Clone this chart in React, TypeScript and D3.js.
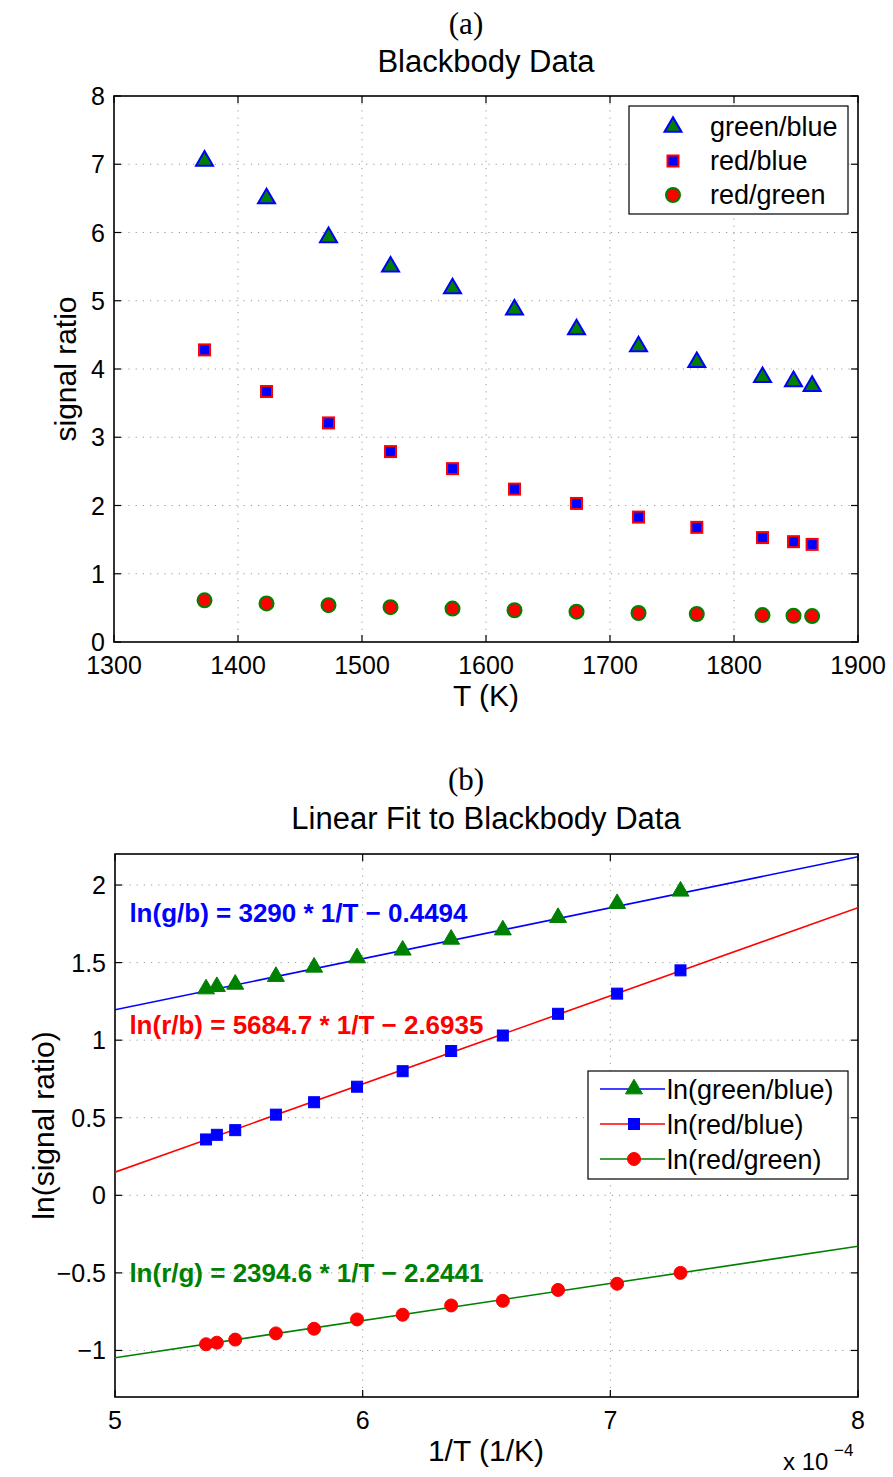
import React from 'react';
import * as d3 from 'd3';

// ---------- data ----------
const temperatures = [1373, 1423, 1473, 1523, 1573, 1623, 1673, 1723, 1770, 1823, 1848, 1863];
const greenBlue = [7.05, 6.5, 5.93, 5.5, 5.18, 4.87, 4.58, 4.33, 4.1, 3.88, 3.82, 3.75];
const redBlue = [4.28, 3.67, 3.21, 2.79, 2.54, 2.24, 2.03, 1.83, 1.68, 1.53, 1.47, 1.43];
const redGreen = [0.61, 0.565, 0.54, 0.51, 0.49, 0.465, 0.445, 0.425, 0.41, 0.395, 0.385, 0.38];

const lnGreenBlue = [1.96, 1.88, 1.79, 1.71, 1.65, 1.58, 1.53, 1.47, 1.41, 1.36, 1.345, 1.33];
const lnRedBlue = [1.45, 1.3, 1.17, 1.03, 0.93, 0.8, 0.7, 0.6, 0.52, 0.42, 0.39, 0.36];
const lnRedGreen = [-0.5, -0.57, -0.61, -0.68, -0.71, -0.77, -0.8, -0.86, -0.89, -0.93, -0.95, -0.96];

const fitNames = ['ln(green/blue)', 'ln(red/blue)', 'ln(red/green)'];
const fitSlopes = [3290, 5684.7, 2394.6];
const fitIntercepts = [-0.4494, -2.6935, -2.2441];
const fitLabels = [
  'ln(g/b) = 3290 * 1/T \u2212 0.4494',
  'ln(r/b) = 5684.7 * 1/T \u2212 2.6935',
  'ln(r/g) = 2394.6 * 1/T \u2212 2.2441',
];
const fitLabelY = [1.82, 1.1, -0.5];

const topXTicks = [1300, 1400, 1500, 1600, 1700, 1800, 1900];
const topYTicks = [0, 1, 2, 3, 4, 5, 6, 7, 8];
const botXTicks = [5e-4, 6e-4, 7e-4, 8e-4];
const botYTicks = [-1, -0.5, 0, 0.5, 1, 1.5, 2];

const topNames = ['green/blue', 'red/blue', 'red/green'];

// ---------- styling ----------
const BLUE = '#0000ff';
const RED = '#ff0000';
const GREEN = '#008000';
const FONT = '"Liberation Sans", Arial, Helvetica, sans-serif';
const SERIF = '"Liberation Serif", "Times New Roman", serif';
const GRID = '#9a9a9a';

type Shape = 'tri' | 'sq' | 'circ';

function Marker({ shape, x, y, fill, stroke, sw, size }: { shape: Shape; x: number; y: number; fill: string; stroke: string; sw: number; size: number }) {
  if (shape === 'tri') {
    const w = size;
    const h = size * 0.86;
    const pts = `${x},${y - (2 * h) / 3} ${x - w / 2},${y + h / 3} ${x + w / 2},${y + h / 3}`;
    return <polygon points={pts} fill={fill} stroke={stroke} strokeWidth={sw} strokeLinejoin="miter" />;
  }
  if (shape === 'sq') {
    return <rect x={x - size / 2} y={y - size / 2} width={size} height={size} fill={fill} stroke={stroke} strokeWidth={sw} />;
  }
  return <circle cx={x} cy={y} r={size / 2} fill={fill} stroke={stroke} strokeWidth={sw} />;
}

function AxesFrame({ x0, x1, y0, y1, xTicks, yTicks, xs, ys, xGrid, yGrid, xFmt, yFmt }: any) {
  const tl = 7;
  return (
    <g>
      {xGrid.map((t: number, i: number) => (
        <line key={'gx' + i} x1={xs(t)} x2={xs(t)} y1={y0} y2={y1} stroke={GRID} strokeWidth={1} strokeDasharray="1.2 6" />
      ))}
      {yGrid.map((t: number, i: number) => (
        <line key={'gy' + i} x1={x0} x2={x1} y1={ys(t)} y2={ys(t)} stroke={GRID} strokeWidth={1} strokeDasharray="1.2 6" />
      ))}
      {xTicks.map((t: number, i: number) => (
        <g key={'tx' + i}>
          <line x1={xs(t)} x2={xs(t)} y1={y1} y2={y1 - tl} stroke="#000" strokeWidth={1.2} />
          <line x1={xs(t)} x2={xs(t)} y1={y0} y2={y0 + tl} stroke="#000" strokeWidth={1.2} />
          <text x={xs(t)} y={y1 + 32} textAnchor="middle" fontFamily={FONT} fontSize={25}>{xFmt(t)}</text>
        </g>
      ))}
      {yTicks.map((t: number, i: number) => (
        <g key={'ty' + i}>
          <line x1={x0} x2={x0 + tl} y1={ys(t)} y2={ys(t)} stroke="#000" strokeWidth={1.2} />
          <line x1={x1} x2={x1 - tl} y1={ys(t)} y2={ys(t)} stroke="#000" strokeWidth={1.2} />
          <text x={x0 - 9} y={ys(t) + 9} textAnchor="end" fontFamily={FONT} fontSize={25}>{yFmt(t)}</text>
        </g>
      ))}
      <rect x={x0} y={y0} width={x1 - x0} height={y1 - y0} fill="none" stroke="#000" strokeWidth={1.6} />
    </g>
  );
}

export default function App() {
  const L = 114, R = 858;
  const tTop = 96, tBot = 642;
  const xT = d3.scaleLinear().domain([1300, 1900]).range([L, R]);
  const yT = d3.scaleLinear().domain([0, 8]).range([tBot, tTop]);

  const bTop = 854, bBot = 1397;
  const xB = d3.scaleLinear().domain([5e-4, 8e-4]).range([L + 1, R]);
  const yB = d3.scaleLinear().domain([-1.3, 2.2]).range([bBot, bTop]);

  const invT = temperatures.map((t) => 1 / t);

  const topSeries = [
    { name: topNames[0], vals: greenBlue, shape: 'tri' as Shape, fill: GREEN, stroke: BLUE, sw: 2, size: 17 },
    { name: topNames[1], vals: redBlue, shape: 'sq' as Shape, fill: BLUE, stroke: RED, sw: 2, size: 11 },
    { name: topNames[2], vals: redGreen, shape: 'circ' as Shape, fill: RED, stroke: GREEN, sw: 2, size: 14 },
  ];

  const botSeries = [
    { vals: lnGreenBlue, shape: 'tri' as Shape, fill: GREEN, stroke: GREEN, sw: 1, size: 17, line: BLUE },
    { vals: lnRedBlue, shape: 'sq' as Shape, fill: BLUE, stroke: BLUE, sw: 1, size: 11, line: RED },
    { vals: lnRedGreen, shape: 'circ' as Shape, fill: RED, stroke: RED, sw: 1, size: 13, line: GREEN },
  ];

  const fmtMinus = (t: number) => (t < 0 ? '\u2212' + String(-t) : String(t));

  return (
    <svg width={893} height={1477} style={{ position: 'absolute', left: 0, top: 0, background: '#fff' }}>
      <rect x={0} y={0} width={893} height={1477} fill="#fff" />

      {/* ===== top ===== */}
      <text x={466} y={34} textAnchor="middle" fontFamily={SERIF} fontSize={31}>(a)</text>
      <text x={486} y={72} textAnchor="middle" fontFamily={FONT} fontSize={31}>Blackbody Data</text>
      <AxesFrame x0={L} x1={R} y0={tTop} y1={tBot} xTicks={topXTicks} yTicks={topYTicks} xs={xT} ys={yT}
        xGrid={topXTicks.slice(1, -1)} yGrid={topYTicks.slice(1, -1)} xFmt={(t: number) => String(t)} yFmt={(t: number) => String(t)} />
      {topSeries.map((s, si) => (
        <g key={'ts' + si}>
          {s.vals.map((v, i) => (
            <Marker key={i} shape={s.shape} x={xT(temperatures[i])} y={yT(v)} fill={s.fill} stroke={s.stroke} sw={s.sw} size={s.size} />
          ))}
        </g>
      ))}
      <text x={(L + R) / 2} y={706} textAnchor="middle" fontFamily={FONT} fontSize={30}>T (K)</text>
      <text transform={`translate(76,${(tTop + tBot) / 2}) rotate(-90)`} textAnchor="middle" fontFamily={FONT} fontSize={30}>signal ratio</text>

      {/* top legend */}
      <rect x={629} y={106} width={219} height={108} fill="#fff" stroke="#000" strokeWidth={1.2} />
      {topSeries.map((s, i) => {
        const cy = 127 + i * 34;
        return (
          <g key={'tl' + i}>
            <Marker shape={s.shape} x={673} y={cy} fill={s.fill} stroke={s.stroke} sw={s.sw} size={s.size} />
            <text x={710} y={cy + 9} fontFamily={FONT} fontSize={27}>{s.name}</text>
          </g>
        );
      })}

      {/* ===== bottom ===== */}
      <text x={466} y={790} textAnchor="middle" fontFamily={SERIF} fontSize={31}>(b)</text>
      <text x={486} y={829} textAnchor="middle" fontFamily={FONT} fontSize={31}>Linear Fit to Blackbody Data</text>
      <defs>
        <clipPath id="clipB">
          <rect x={L + 1} y={bTop} width={R - L - 1} height={bBot - bTop} />
        </clipPath>
      </defs>
      <AxesFrame x0={L + 1} x1={R} y0={bTop} y1={bBot} xTicks={botXTicks} yTicks={botYTicks} xs={xB} ys={yB}
        xGrid={botXTicks.slice(1, -1)} yGrid={botYTicks} xFmt={(t: number) => String(Math.round(t * 1e4))} yFmt={fmtMinus} />
      <g clipPath="url(#clipB)">
        {botSeries.map((s, si) => {
          const dom = xB.domain();
          const f = (x: number) => fitSlopes[si] * x + fitIntercepts[si];
          const line = d3.line<number>().x((x) => xB(x)).y((x) => yB(f(x)));
          return <path key={'fl' + si} d={line(dom) || ''} stroke={s.line} strokeWidth={1.6} fill="none" />;
        })}
      </g>
      {botSeries.map((s, si) => (
        <g key={'bs' + si}>
          {s.vals.map((v, i) => (
            <Marker key={i} shape={s.shape} x={xB(invT[i])} y={yB(v)} fill={s.fill} stroke={s.stroke} sw={s.sw} size={s.size} />
          ))}
        </g>
      ))}
      {fitLabels.map((lbl, i) => (
        <text key={'eq' + i} x={xB(5.05e-4) + 2} y={yB(fitLabelY[i]) + 9} fontFamily={FONT} fontWeight="bold" fontSize={26} fill={botSeries[i].line}>{lbl}</text>
      ))}

      <text x={(L + R) / 2} y={1461} textAnchor="middle" fontFamily={FONT} fontSize={30}>1/T (1/K)</text>
      <text x={783} y={1470} fontFamily={FONT} fontSize={24}>x 10</text>
      <text x={834} y={1456} fontFamily={FONT} fontSize={17}>{'\u22124'}</text>
      <text transform={`translate(54,${(bTop + bBot) / 2}) rotate(-90)`} textAnchor="middle" fontFamily={FONT} fontSize={30}>ln(signal ratio)</text>

      {/* bottom legend */}
      <rect x={588} y={1071} width={260} height={108} fill="#fff" stroke="#000" strokeWidth={1.2} />
      {botSeries.map((s, i) => {
        const cy = 1089 + i * 35;
        return (
          <g key={'bl' + i}>
            <line x1={600} x2={665} y1={cy} y2={cy} stroke={s.line} strokeWidth={1.6} />
            <Marker shape={s.shape} x={634} y={cy} fill={s.fill} stroke={s.stroke} sw={s.sw} size={s.size} />
            <text x={667} y={cy + 10} fontFamily={FONT} fontSize={27}>{fitNames[i]}</text>
          </g>
        );
      })}
    </svg>
  );
}
